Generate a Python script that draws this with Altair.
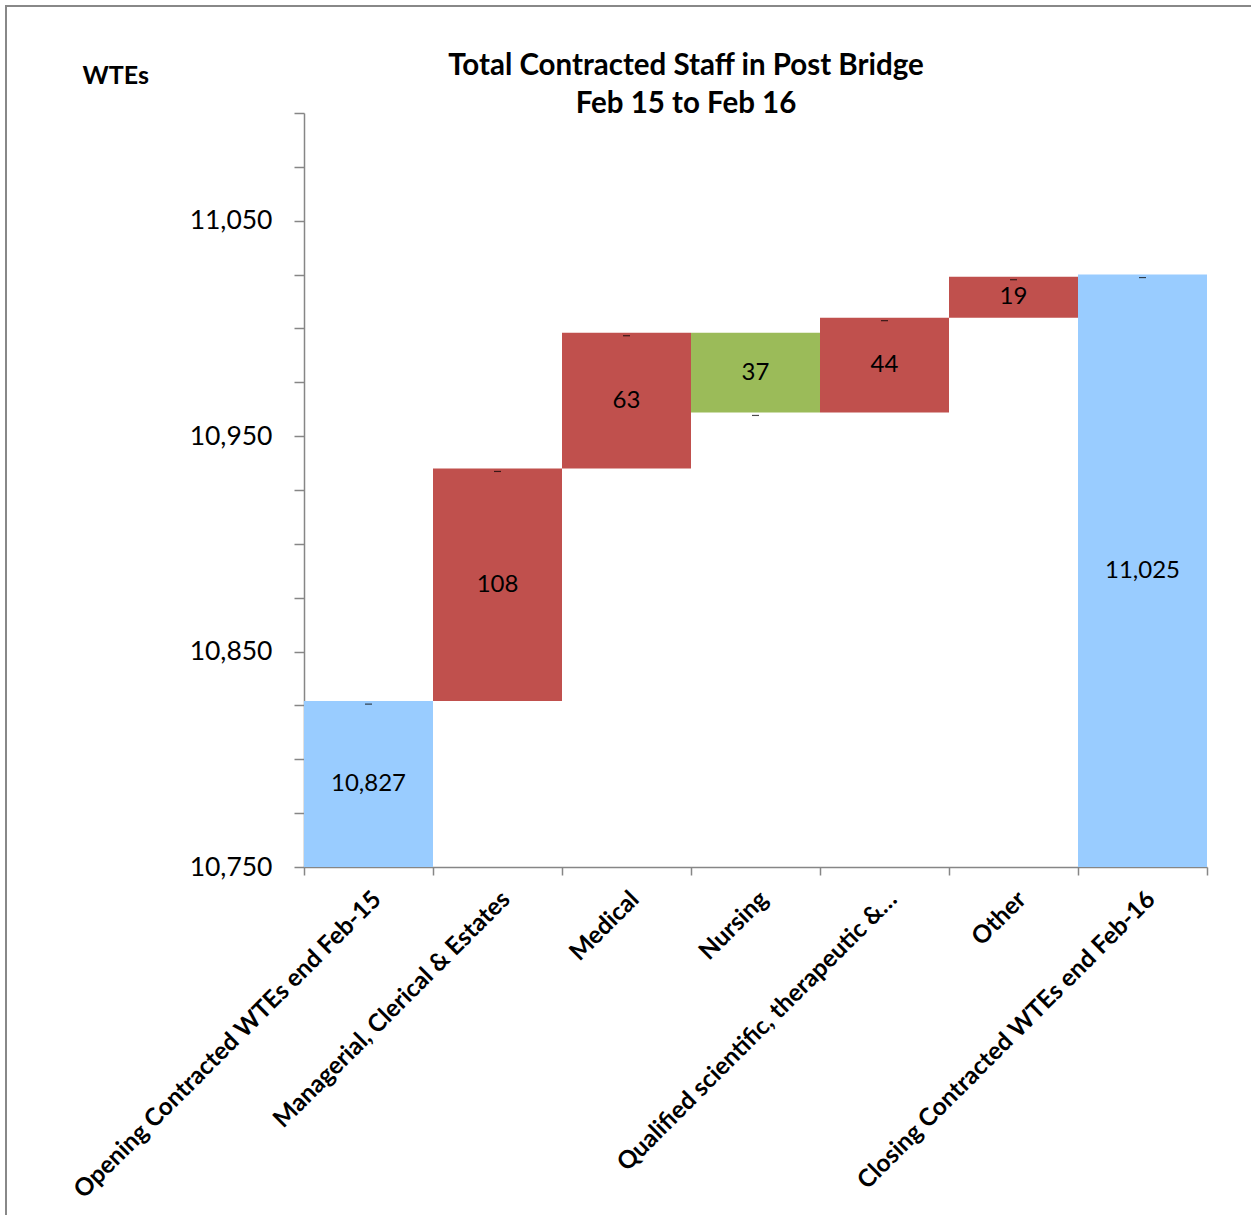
import altair as alt
import pandas as pd

categories = [
    "Opening Contracted WTEs end Feb-15",
    "Managerial, Clerical & Estates",
    "Medical",
    "Nursing",
    "Qualified scientific, therapeutic &…",
    "Other",
    "Closing Contracted WTEs end Feb-16",
]
opening_value = 10827
changes = [108, 63, -37, 44, 19]
closing_value = 11025
axis_min = 10750
axis_max = 11100
tick_values = [10750 + 25 * i for i in range(15)]
title_lines = ["Total Contracted Staff in Post Bridge", "Feb 15 to Feb 16"]
y_title = "WTEs"

# build waterfall table
starts, ends, kinds, labels = [], [], [], []
starts.append(axis_min); ends.append(opening_value); kinds.append("Total"); labels.append(f"{opening_value:,}")
run = opening_value
for c in changes:
    starts.append(run)
    run = run + c
    ends.append(run)
    kinds.append("Increase" if c > 0 else "Decrease")
    labels.append(f"{abs(c):,}")
starts.append(axis_min); ends.append(closing_value); kinds.append("Total"); labels.append(f"{closing_value:,}")

df = pd.DataFrame({
    "category": categories,
    "start": starts,
    "end": ends,
    "kind": kinds,
    "label": labels,
})
df["mid"] = (df["start"] + df["end"]) / 2

FONT = "Lato"
AXIS_COLOR = "#868686"

x_enc = alt.X(
    "category:N",
    sort=categories,
    scale=alt.Scale(paddingInner=0, paddingOuter=0),
    axis=alt.Axis(
        title=None,
        labelAngle=-45,
        labelAlign="right",
        labelBaseline="top",
        labelFont=FONT,
        labelFontSize=24.5,
        labelFontWeight="bold",
        labelColor="black",
        labelPadding=12,
        labelLimit=700,
        tickBand="extent",
        tickSize=8,
        tickColor=AXIS_COLOR,
        tickWidth=1.5,
        domainColor=AXIS_COLOR,
        domainWidth=1.5,
    ),
)

y_scale = alt.Scale(domain=[axis_min, axis_max], nice=False, zero=False)

bars = alt.Chart(df).mark_bar(stroke=None).encode(
    x=x_enc,
    y=alt.Y(
        "start:Q",
        scale=y_scale,
        axis=alt.Axis(
            title=y_title,
            titleAngle=0,
            titleAlign="left",
            titleBaseline="middle",
            titleX=-222,
            titleY=-38,
            titleFont=FONT,
            titleFontSize=25,
            titleFontWeight="bold",
            titleColor="black",
            values=tick_values,
            labelExpr="(datum.value - 10750) % 100 == 0 ? format(datum.value, ',') : ''",
            labelFont=FONT,
            labelFontSize=26.5,
            labelColor="black",
            labelPadding=22,
            tickSize=10,
            tickColor=AXIS_COLOR,
            tickWidth=1.5,
            domainColor=AXIS_COLOR,
            domainWidth=1.5,
            grid=False,
        ),
    ),
    y2="end:Q",
    color=alt.Color(
        "kind:N",
        scale=alt.Scale(domain=["Total", "Increase", "Decrease"], range=["#99CCFF", "#C0504D", "#9BBB59"]),
        legend=None,
    ),
)

text = alt.Chart(df).mark_text(font=FONT, fontSize=24, color="black", baseline="middle").encode(
    x=alt.X("category:N", sort=categories),
    y=alt.Y("mid:Q", scale=y_scale),
    text="label:N",
)

dashes = alt.Chart(df).mark_tick(color="black", size=7, thickness=1.2, yOffset=3).encode(
    x=alt.X("category:N", sort=categories),
    y=alt.Y("end:Q", scale=y_scale),
)

title1 = alt.Chart(pd.DataFrame({"t": [title_lines[0]]})).mark_text(
    font=FONT, fontSize=29.5, fontWeight="bold", color="black", baseline="middle", align="center"
).encode(x=alt.value(382), y=alt.value(-47), text="t:N")
title2 = alt.Chart(pd.DataFrame({"t": [title_lines[1]]})).mark_text(
    font=FONT, fontSize=29.5, fontWeight="bold", color="black", baseline="middle", align="center"
).encode(x=alt.value(382), y=alt.value(-9), text="t:N")

frame_df = pd.DataFrame({"a": [0]})
frame_top = alt.Chart(frame_df).mark_rule(color="#888888", strokeWidth=2).encode(
    x=alt.value(-299), x2=alt.value(947), y=alt.value(-107)
)
frame_left = alt.Chart(frame_df).mark_rule(color="#888888", strokeWidth=2).encode(
    x=alt.value(-298), y=alt.value(-108), y2=alt.value(1102)
)

chart = alt.layer(bars, text, dashes, title1, title2, frame_top, frame_left).properties(
    width=903,
    height=754,
    autosize=alt.AutoSizeParams(type="none"),
    padding={"left": 304, "top": 113, "right": 44, "bottom": 348},
    background="white",
).configure_view(stroke=None)

chart.save("out.html", embed_options={"renderer": "svg", "actions": False})
